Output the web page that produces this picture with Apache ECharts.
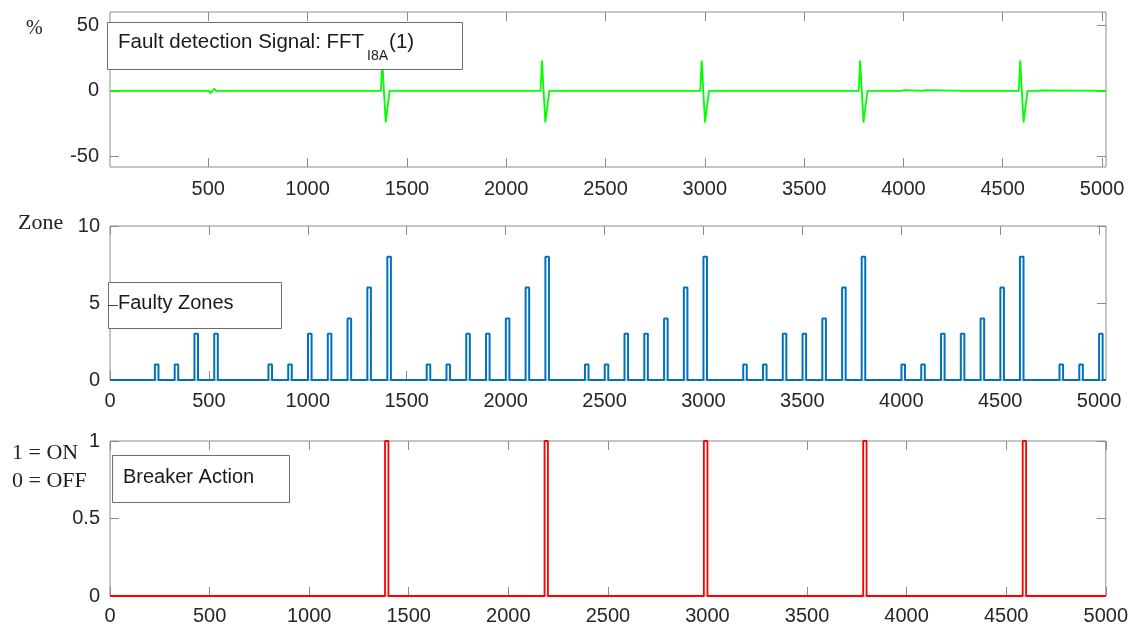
<!DOCTYPE html>
<html><head><meta charset="utf-8">
<script src="https://cdn.jsdelivr.net/npm/echarts@6/dist/echarts.min.js"></script>
<style>html,body{margin:0;padding:0;background:#fff}#c{width:1131px;height:633px}</style>
</head><body><div id="c"></div>
<script>
// ---- tick labels ----
const xTicksTop = [500,1000,1500,2000,2500,3000,3500,4000,4500,5000];
const xTicksAll = [0,500,1000,1500,2000,2500,3000,3500,4000,4500,5000];
const yTicksFFT = [-50,0,50];
const yTicksZone = [0,5,10];
const yTicksBreaker = [0,0.5,1];

// ---- panel 1: fault detection signal FFT_I8A(1), [sample, %] ----
const faultSignal = [
[5,0],[203,0],[208,-0.6],[213,0.5],[218,0],
[304,0],[309,-0.6],[314,0.5],[319,0],
[505,0],[510,-2],[520,-0.5],[531,1.6],[538,0],
[791,0],[796,-0.5],[801,0.5],[806,0],
[891,0],[896,-0.5],[901,0.5],[906,0],
[1099,0],[1104,-0.4],[1109,0.4],[1114,0],
[1369,0],[1376,23],[1393,-24],[1413,0],
[1579,0],[1584,-0.5],[1589,0.5],[1594,0],
[1696,0],[1701,-0.6],[1706,0.6],[1711,0],
[1898,0],[1903,-0.4],[1908,0.4],[1913,0],
[2173,0],[2180,23],[2197,-24],[2217,0],
[2401,0],[2406,-0.5],[2411,0.5],[2416,0],
[2502,0],[2507,-0.6],[2512,0.6],[2517,0],
[2703,0],[2708,-0.4],[2713,0.4],[2718,0],
[2977,0],[2984,23],[3001,-24],[3021,0],
[3080,0],[3088,-0.8],[3096,0],
[3200,0],[3205,0.6],[3210,-0.3],[3215,0],
[3305,0],[3310,-0.5],[3315,0.5],[3320,0],
[3487,0],[3492,0.4],[3497,0],
[3775,0],[3782,23],[3799,-24],[3819,0],
[3886,0],[3891,0.6],[3896,0],
[3990,0],[3995,-0.6],[4005,0.6],[4010,0],
[4100,0],[4105,-0.5],[4112,0.5],[4117,0],
[4305,0],[4310,0.3],[4315,0],
[4581,0],[4588,23],[4605,-24],[4625,0],
[4680,0],[4687,-1.2],[4695,0.3],[4700,0],
[5020,0]
];

// ---- panel 2: faulty zones, [start, end, zone] ----
const zonePulses = [
[227,245,1],[327,345,1],[427,445,3],[527,545,3],
[801,819,1],[901,919,1],[1001,1019,3],[1101,1119,3],[1201,1219,4],[1301,1319,6],[1402,1420,8],
[1601,1619,1],[1701,1719,1],[1801,1819,3],[1901,1919,3],[2001,2019,4],[2101,2119,6],[2201,2219,8],
[2401,2419,1],[2501,2519,1],[2601,2619,3],[2701,2719,3],[2801,2819,4],[2901,2919,6],[3000,3018,8],
[3201,3219,1],[3301,3319,1],[3401,3419,3],[3501,3519,3],[3601,3619,4],[3701,3719,6],[3800,3818,8],
[4001,4019,1],[4101,4119,1],[4201,4219,3],[4301,4319,3],[4401,4419,4],[4501,4519,6],[4600,4618,8],
[4800,4818,1],[4900,4918,1],[5000,5018,3]
];

// ---- panel 3: breaker action, [start, end] at level 1 ----
const breakerPulses = [[1381,1398],[2182,2199],[2982,3000],[3782,3799],[4583,4600]];

// build step polylines from pulse tables
function stepLine(pulses, xEnd, level) {
  const pts = [[0,0]];
  pulses.forEach(p => {
    const v = level != null ? level : p[2];
    pts.push([p[0],0],[p[0],v],[p[1],v],[p[1],0]);
  });
  pts.push([xEnd,0]);
  return pts;
}
const zoneLine = stepLine(zonePulses, 5035);
const breakerLine = stepLine(breakerPulses, 5000, 1);

const AX = '#8c8c8c', TXT = '#262626';
const SANS = '"Liberation Sans", Arial, sans-serif';
const SERIF = '"Liberation Serif", "Times New Roman", serif';
const fmt = v => String(v);

const grids = [
  {left:110, right:25, top:12, height:155},
  {left:110, right:25, top:226, height:154},
  {left:110, right:25, top:441, height:155}
];
const xr = [[5,5020],[0,5035],[0,5000]];
const yr = [[-58,60],[0,10],[0,1]];
const xLab = [xTicksTop, xTicksAll, xTicksAll];
const yLab = [yTicksFFT, yTicksZone, yTicksBreaker];
const xMargin = [12,11,10];
const yMargin = [11,10,10];

const xAxis = [], yAxis = [];
for (let i=0;i<3;i++){
  xAxis.push({type:'value', gridIndex:i, position:'bottom', min:xr[i][0], max:xr[i][1],
    axisLine:{show:false, onZero:false}, splitLine:{show:false},
    axisTick:{show:true, inside:true, length:9, customValues:xLab[i], lineStyle:{color:AX,width:1}},
    axisLabel:{show:true, customValues:xLab[i], formatter:fmt, margin:xMargin[i], color:TXT, fontSize:20, fontFamily:SANS}});
  yAxis.push({type:'value', gridIndex:i, position:'left', min:yr[i][0], max:yr[i][1],
    axisLine:{show:false, onZero:false}, splitLine:{show:false},
    axisTick:{show:true, inside:true, length:9, customValues:yLab[i], lineStyle:{color:AX,width:1}},
    axisLabel:{show:true, customValues:yLab[i], formatter:fmt, margin:yMargin[i], color:TXT, fontSize:20, fontFamily:SANS}});
}
for (let i=0;i<3;i++){
  xAxis.push({type:'value', gridIndex:i, position:'top', min:xr[i][0], max:xr[i][1],
    axisLine:{show:false, onZero:false}, splitLine:{show:false},
    axisTick:{show:true, inside:true, length:9, customValues:xLab[i], lineStyle:{color:AX,width:1}},
    axisLabel:{show:false}});
  yAxis.push({type:'value', gridIndex:i, position:'right', min:yr[i][0], max:yr[i][1],
    axisLine:{show:false, onZero:false}, splitLine:{show:false},
    axisTick:{show:true, inside:true, length:9, customValues:yLab[i], lineStyle:{color:AX,width:1}},
    axisLabel:{show:false}});
}

// measure text for subscript placement
const mctx = document.createElement('canvas').getContext('2d');
const legFont1 = 20.5;
mctx.font = legFont1 + 'px "Liberation Sans"';
const mainStr = 'Fault detection Signal: FFT';
const wMain = mctx.measureText(mainStr).width;
mctx.font = '14px "Liberation Sans"';
const wSub = mctx.measureText('I8A').width;

const graphic = [
  // legend boxes
  {type:'rect', shape:{x:107.5,y:22.5,width:355,height:47}, style:{fill:'#fff',stroke:'#6e6e6e',lineWidth:1}, z:100},
  {type:'rect', shape:{x:108.5,y:282.5,width:173,height:46}, style:{fill:'#fff',stroke:'#6e6e6e',lineWidth:1}, z:100},
  {type:'rect', shape:{x:112.5,y:455.5,width:177,height:47}, style:{fill:'#fff',stroke:'#6e6e6e',lineWidth:1}, z:100},
  // legend texts
  {type:'text', z:101, style:{x:118, y:42, text:mainStr, fontSize:legFont1, fontFamily:SANS, fill:'#1a1a1a', verticalAlign:'middle'}},
  {type:'text', z:101, style:{x:118+wMain+3, y:56, text:'I8A', fontSize:14, fontFamily:SANS, fill:'#1a1a1a', verticalAlign:'middle'}},
  {type:'text', z:101, style:{x:118+wMain+3+wSub+1, y:42, text:'(1)', fontSize:legFont1, fontFamily:SANS, fill:'#1a1a1a', verticalAlign:'middle'}},
  {type:'line', z:101, shape:{x1:108,y1:305.5,x2:118,y2:305.5}, style:{stroke:'#444',lineWidth:1}},
  {type:'text', z:101, style:{x:118, y:303, text:'Faulty Zones', fontSize:20, fontFamily:SANS, fill:'#1a1a1a', verticalAlign:'middle'}},
  {type:'text', z:101, style:{x:123, y:477, text:'Breaker Action', fontSize:20, fontFamily:SANS, fill:'#1a1a1a', verticalAlign:'middle'}},
  // side unit labels
  {type:'text', style:{x:26, y:29, text:'%', fontSize:20, fontFamily:SERIF, fill:'#222', verticalAlign:'middle'}},
  {type:'text', style:{x:18, y:223, text:'Zone', fontSize:22, fontFamily:SERIF, fill:'#222', verticalAlign:'middle'}},
  {type:'text', style:{x:12, y:453, text:'1 = ON', fontSize:22, fontFamily:SERIF, fill:'#222', verticalAlign:'middle'}},
  {type:'text', style:{x:12, y:481, text:'0 = OFF', fontSize:22, fontFamily:SERIF, fill:'#222', verticalAlign:'middle'}}
];

const option = {
  animation:false,
  backgroundColor:'#fff',
  grid: grids.map(g => Object.assign({show:true, borderColor:AX, borderWidth:1, backgroundColor:'transparent'}, g)),
  xAxis, yAxis,
  series: [
    {type:'line', xAxisIndex:0, yAxisIndex:0, data:faultSignal, showSymbol:false, symbol:'none',
     lineStyle:{color:'#00ff00', width:1.8}, z:5},
    {type:'line', xAxisIndex:1, yAxisIndex:1, data:zoneLine, showSymbol:false, symbol:'none',
     lineStyle:{color:'#0072BD', width:2}, z:5},
    {type:'line', xAxisIndex:2, yAxisIndex:2, data:breakerLine, showSymbol:false, symbol:'none',
     lineStyle:{color:'#ff0000', width:1.8}, z:5}
  ],
  graphic
};
const chart = echarts.init(document.getElementById('c'), null, {renderer:'canvas'});
chart.setOption(option);
</script></body></html>
